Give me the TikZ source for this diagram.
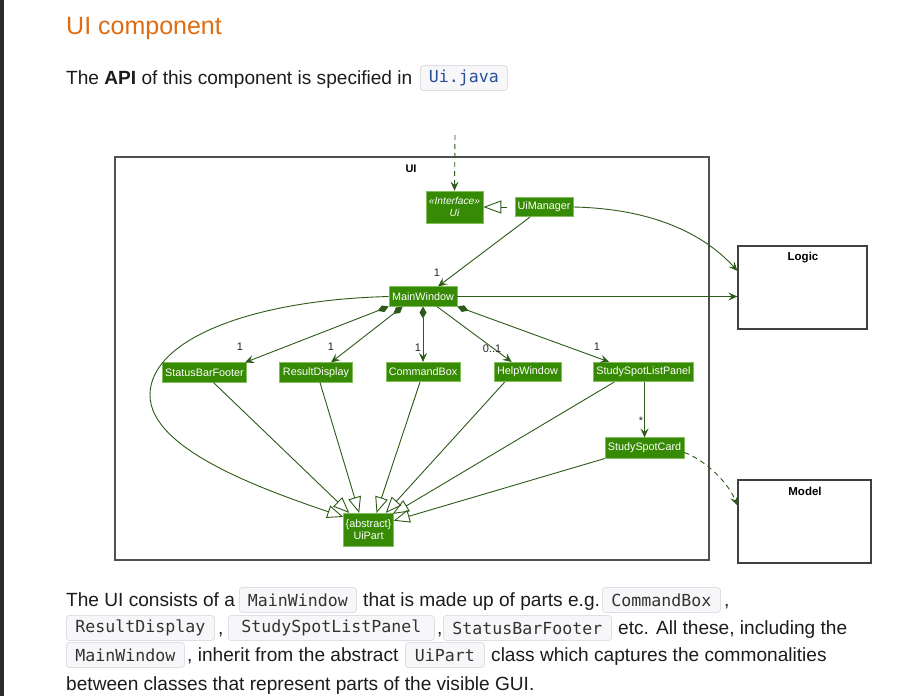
\documentclass[tikz,border=0pt]{standalone}
\usepackage{fontspec}
\setmainfont{Liberation Sans}
\newfontfamily\codefont{DejaVu Sans Mono}
\usetikzlibrary{arrows.meta,calc}
\definecolor{titleorange}{RGB}{224,108,18}
\definecolor{boxgreen}{RGB}{55,138,4}
\definecolor{boxborder}{RGB}{130,190,90}
\definecolor{linegreen}{RGB}{45,90,25}
\definecolor{pkggray}{RGB}{80,80,80}
\definecolor{codeblue}{RGB}{40,80,150}
\definecolor{codebg}{RGB}{247,247,249}
\definecolor{codeborder}{RGB}{222,222,228}
\definecolor{bodytext}{RGB}{28,28,28}
\definecolor{sidebar}{RGB}{43,43,43}
\begin{document}
\begin{tikzpicture}[x=1pt,y=-1pt,
  cls/.style={fill=boxgreen, draw=boxborder, line width=0.6pt, text=white,
    font=\fontsize{10.8}{12.5}\selectfont, inner xsep=1pt, inner ysep=0pt,
    minimum height=19.5pt, align=center},
  lnk/.style={draw=linegreen, line width=0.9pt},
  assoc/.style={lnk, -{Stealth[length=9pt,width=8pt,inset=3.5pt]}},
  comp/.style={lnk, {Diamond[length=12pt,width=7pt]}-{Stealth[length=9pt,width=8pt,inset=3.5pt]}},
  inh/.style={lnk, -{Triangle[open,length=16pt,width=13pt]}},
  mult/.style={font=\fontsize{11}{12}\selectfont, text=black!85, inner sep=0pt},
  comp box/.style={draw=black!75, line width=1.3pt},
  bold lbl/.style={font=\fontsize{11.5}{13}\selectfont\bfseries, text=black, inner sep=0pt},
  body/.style={anchor=base west, inner sep=0pt, text=bodytext, font=\fontsize{19.1}{22}\selectfont},
  codebox/.style={anchor=west, fill=codebg, draw=codeborder, line width=0.8pt, rounded corners=3pt,
    inner xsep=0pt, inner ysep=0pt, minimum height=25pt, text=black!80,
    font=\codefont\fontsize{16.6}{20}\selectfont}
]
\useasboundingbox (0,0) rectangle (920,696);
\fill[white] (0,0) rectangle (920,696);
\fill[sidebar] (0,0) rectangle (4,696);

% header
\node[anchor=base west, inner sep=0pt, text=titleorange, font=\fontsize{25}{28}\selectfont] (title) at (66,34) {UI component};
\node[body] (apiline) at (66,84) {The \textbf{API} of this component is specified in};
\node[codebox, text=codeblue, minimum width=87pt] (uijava) at (420,78) {Ui.java};

% package and external components
\node[draw=pkggray, line width=1.8pt, minimum width=594pt, minimum height=403pt, inner sep=0pt] (uipkg) at (412,358.5) {};
\node[font=\fontsize{11}{12}\selectfont\bfseries, inner sep=0pt] (uipkglbl) at (411,168.5) {UI};
\node[comp box, minimum width=129pt, minimum height=83pt, inner sep=0pt] (logic) at (802.5,287.5) {};
\node[bold lbl] (logiclbl) at (803,257.5) {Logic};
\node[comp box, minimum width=133pt, minimum height=83pt, inner sep=0pt] (model) at (804.5,521.5) {};
\node[bold lbl] (modellbl) at (805,491.5) {Model};

% classes
\node[cls, minimum width=57pt, minimum height=32pt, font=\fontsize{10.2}{12}\selectfont\itshape] (ui) at (454.5,207) {«Interface»\\Ui};
\node[cls, minimum width=58pt] (uim) at (544,207) {UiManager};
\node[cls, minimum width=68pt] (mw) at (423,296.5) {MainWindow};
\node[cls, minimum width=84.5pt] (sbf) at (204.5,372.5) {StatusBarFooter};
\node[cls, minimum width=73pt] (rd) at (316,372.5) {ResultDisplay};
\node[cls, minimum width=74pt] (cb) at (423,372) {CommandBox};
\node[cls, minimum width=67pt] (hw) at (527.5,372) {HelpWindow};
\node[cls, minimum width=100pt] (sslp) at (643.5,372) {StudySpotListPanel};
\node[cls, minimum width=79pt, minimum height=20.5pt] (ssc) at (644.5,448) {StudySpotCard};
\node[cls, minimum width=50pt, minimum height=33pt] (uip) at (368.5,529.7) {\{abstract\}\\UiPart};

% connectors
\coordinate (apiin) at (455,135);
\draw[lnk, dash pattern=on 5pt off 4pt, -{Stealth[length=9pt,width=8pt,inset=3.5pt]}] (apiin) -- (ui.north);
\draw[lnk, dash pattern=on 6pt off 8pt, {Triangle[open,length=18pt,width=13pt]}-] (ui.east) -- (uim.west);
\draw[assoc] ($(uim.south)+(-14,0)$) -- ($(mw.north)+(15,0)$);
\node[mult] (m0) at (437,272.5) {1};
\draw[assoc] (uim.east) .. controls (670,209) and (715,246) .. ($(logic.north west)+(0,25.5)$);
\draw[assoc] (mw.east) -- (mw.east -| logic.west);

\draw[comp] (mw.south west) -- ($(sbf.north east)+(-2,0)$);
\node[mult] (m1) at (240,347) {1};
\draw[comp] ($(mw.south west)+(14,0)$) -- ($(rd.north)+(15,0)$);
\node[mult] (m2) at (331,347) {1};
\draw[comp] (mw.south) -- (mw.south |- cb.north);
\node[mult] (m3) at (418,348) {1};
\draw[assoc] ($(mw.south)+(14,0)$) -- ($(hw.north west)+(18,0)$);
\node[mult] (m4) at (492,349) {0..1};
\draw[comp] (mw.south east) -- ($(sslp.north west)+(16,0)$);
\node[mult] (m5) at (597,347) {1};
\draw[assoc] (ssc.north |- sslp.south) -- (ssc.north);
\node[mult] (m6) at (641,421) {*};
\draw[lnk, dash pattern=on 5pt off 4pt, -{Stealth[length=9pt,width=8pt,inset=3.5pt]}]
  ($(ssc.east)+(0,4.5)$) .. controls (705,460) and (728,482) .. ($(model.north west)+(0,26)$);

% inheritance
\draw[inh] (mw.west) .. controls (250,300) and (150,340) .. (150,395)
  .. controls (150,450) and (265,490) .. ($(uip.north west)+(0,4)$);
\draw[inh] ($(sbf.south)+(9,0)$) -- ($(uip.north west)+(6,0)$);
\draw[inh] ($(rd.south)+(4,0)$) -- ($(uip.north west)+(16,0)$);
\draw[inh] ($(cb.south)+(-3,0)$) -- ($(uip.north)+(8,0)$);
\draw[inh] ($(hw.south west)+(11,0)$) -- ($(uip.north east)+(-8,0)$);
\draw[inh] ($(sslp.south west)+(21,0)$) -- ($(uip.north east)+(-1,1)$);
\draw[inh] (ssc.south west) -- ($(uip.east)+(0,-9)$);

% paragraph
\node[body] (p1a) at (66,606) {The UI consists of a};
\node[codebox, minimum width=117pt] (p1b) at (239,600) {MainWindow};
\node[body] (p1c) at (363,606) {that is made up of parts e.g.};
\node[codebox, minimum width=118pt] (p1d) at (602,600) {CommandBox};
\node[body] (p1e) at (724,606) {,};
\node[codebox, minimum width=148pt] (p2a) at (66,628) {ResultDisplay};
\node[body] (p2b) at (218,634) {,};
\node[codebox, minimum width=206pt] (p2c) at (228,628) {StudySpotListPanel};
\node[body] (p2d) at (437,634) {,};
\node[codebox, minimum width=168pt] (p2e) at (443,628) {StatusBarFooter};
\node[body] (p2f) at (618,634) {etc. All these, including the};
\node[codebox, minimum width=118pt] (p3a) at (66,655) {MainWindow};
\node[body] (p3b) at (187,661) {, inherit from the abstract};
\node[codebox, minimum width=79pt] (p3c) at (405,655) {UiPart};
\node[body] (p3d) at (491,661) {class which captures the commonalities};
\node[body] (p4) at (66,690) {between classes that represent parts of the visible GUI.};
\end{tikzpicture}
\end{document}
